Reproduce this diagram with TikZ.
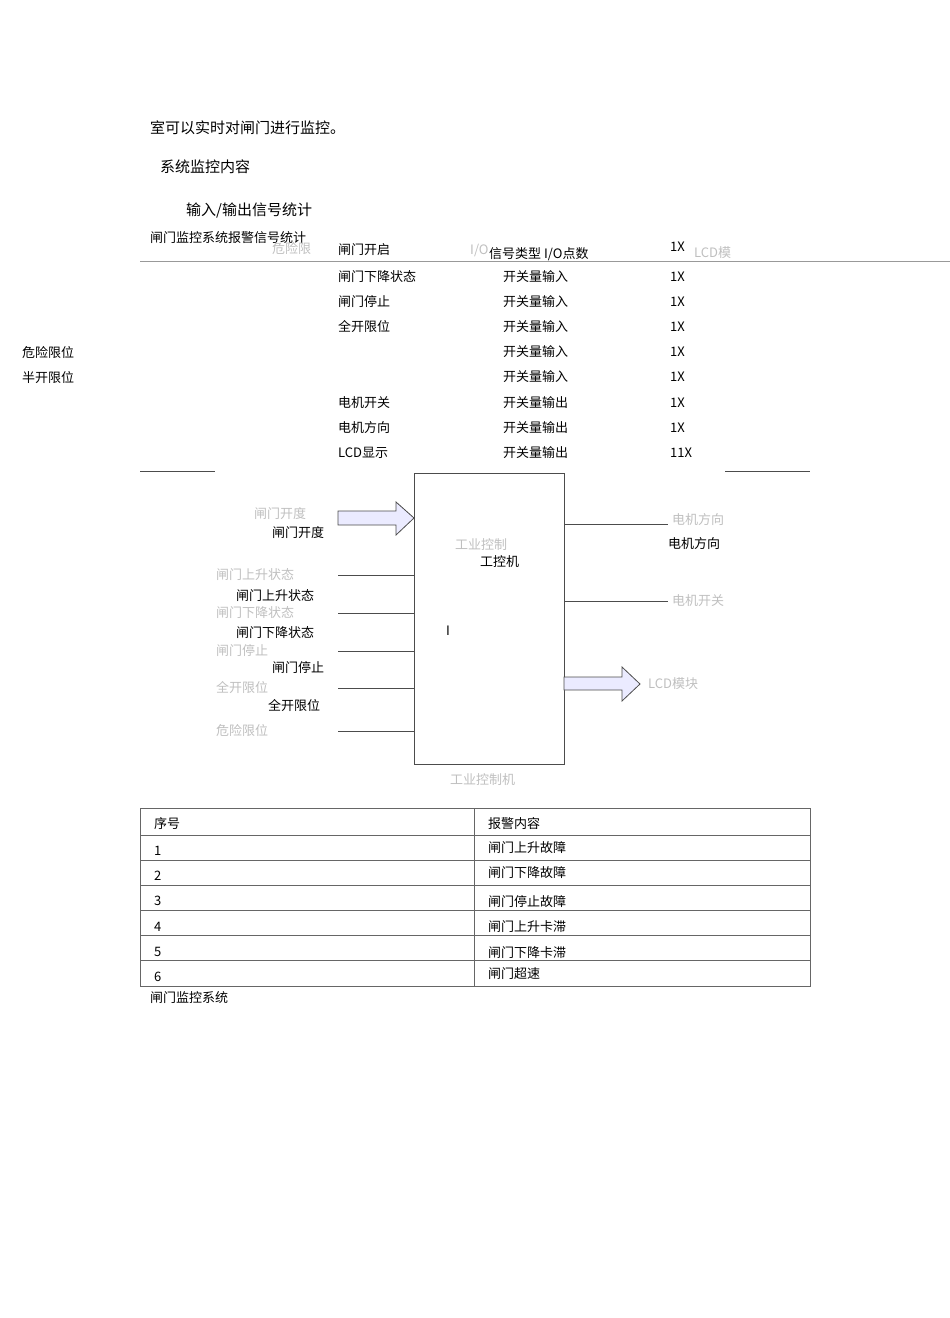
\documentclass[tikz,border=0pt]{standalone}
\usepackage{fontspec}
\setmainfont{Noto Sans CJK SC}
\begin{document}
\begin{tikzpicture}[x=1pt,y=-1pt,
  t/.style={anchor=west,inner sep=0pt,font=\fontsize{13}{13}\selectfont},
  big/.style={anchor=west,inner sep=0pt,font=\fontsize{15}{15}\selectfont},
  faint/.style={t,text=black!25},
  ln/.style={draw=black!70,line width=0.8pt},
  barrow/.style={draw=black!70,fill=blue!8,line width=0.8pt}]
\useasboundingbox (0,0) rectangle (950,1318);
\node[big] (p1) at (150,128) {室可以实时对闸门进行监控。};
\node[big] (p2) at (160,167) {系统监控内容};
\node[big] (p3) at (186,211) {输入/输出信号统计};
\node[t] (cap1) at (150,238) {闸门监控系统报警信号统计};
\node[faint] (f1) at (272,249) {危险限};
\node[t] (h1) at (338,250) {闸门开启};
\node[t] (h2) at (489,254) {信号类型 I/O点数};
\node[faint] (h3) at (470,250) {I/O};
\node[t] (h4) at (670,247) {1X};
\node[faint] (h5) at (694,253) {LCD模};
\draw[draw=black!40] (140,261) -- (950,261);
\foreach \y/\a/\b/\c in {277/闸门下降状态/开关量输入/1X,302/闸门停止/开关量输入/1X,327/全开限位/开关量输入/1X,352//开关量输入/1X,377//开关量输入/1X,403/电机开关/开关量输出/1X,428/电机方向/开关量输出/1X,453/LCD显示/开关量输出/11X}{
  \node[t] at (338,\y) {\a};
  \node[t] at (503,\y) {\b};
  \node[t] at (670,\y) {\c};
}
\node[t] (l1) at (22,353) {危险限位};
\node[t] (l2) at (22,378) {半开限位};
\draw[ln] (140,471) -- (215,471);
\draw[ln] (725,471) -- (810,471);
\node[draw=black!70,line width=0.8pt,minimum width=150pt,minimum height=291pt,inner sep=0pt] (pc) at (489,618.5) {};
\node[t] (pcl) at (480,562) {工控机};
\node[faint] (pcf) at (455,545) {工业控制};
\node[t] (pcI) at (446,631) {I};
\node[faint] (pcb) at (450,780) {工业控制机};
\draw[barrow] (338,511) -- (396,511) -- (396,502) -- (414,518) -- (396,535) -- (396,525) -- (338,525) -- cycle;
\node[faint] (a1) at (254,514) {闸门开度};
\node[t] (a2) at (272,533) {闸门开度};
\foreach \y/\n/\fa in {575/i1/闸门上升状态,613/i2/闸门下降状态,651/i3/闸门停止,688/i4/全开限位,731/i5/危险限位}{
  \coordinate (\n) at (338,\y);
  \draw[ln] (\n) -- (pc.west |- \n);
  \node[faint] at (216,\y) {\fa};
}
\node[t] at (236,596) {闸门上升状态};
\node[t] at (236,633) {闸门下降状态};
\node[t] at (272,668) {闸门停止};
\node[t] at (268,706) {全开限位};
\coordinate (o1) at (668,524);
\coordinate (o2) at (668,601);
\draw[ln] (pc.east |- o1) -- (o1);
\draw[ln] (pc.east |- o2) -- (o2);
\node[faint] at (672,520) {电机方向};
\node[t] at (668,544) {电机方向};
\node[faint] at (672,601) {电机开关};
\draw[barrow] (564,677) -- (622,677) -- (622,667) -- (640,684) -- (622,701) -- (622,690) -- (564,690) -- cycle;
\node[faint] at (648,684) {LCD模块};
\draw[draw=black!60] (140,808) rectangle (810,986);
\draw[draw=black!60] (474,808) -- (474,986);
\foreach \y in {835,860,885,910,935,960} \draw[draw=black!60] (140,\y) -- (810,\y);
\node[t] at (154,824) {序号};
\node[t] at (488,824) {报警内容};
\foreach \y/\n in {851/1,876/2,901/3,927/4,952/5,977/6}{
  \node[t] at (154,\y) {\n};
}
\foreach \y/\a in {848/闸门上升故障,873/闸门下降故障,902/闸门停止故障,927/闸门上升卡滞,953/闸门下降卡滞,974/闸门超速}{
  \node[t] at (488,\y) {\a};
}
\node[t] (cap2) at (150,998) {闸门监控系统};
\end{tikzpicture}
\end{document}
